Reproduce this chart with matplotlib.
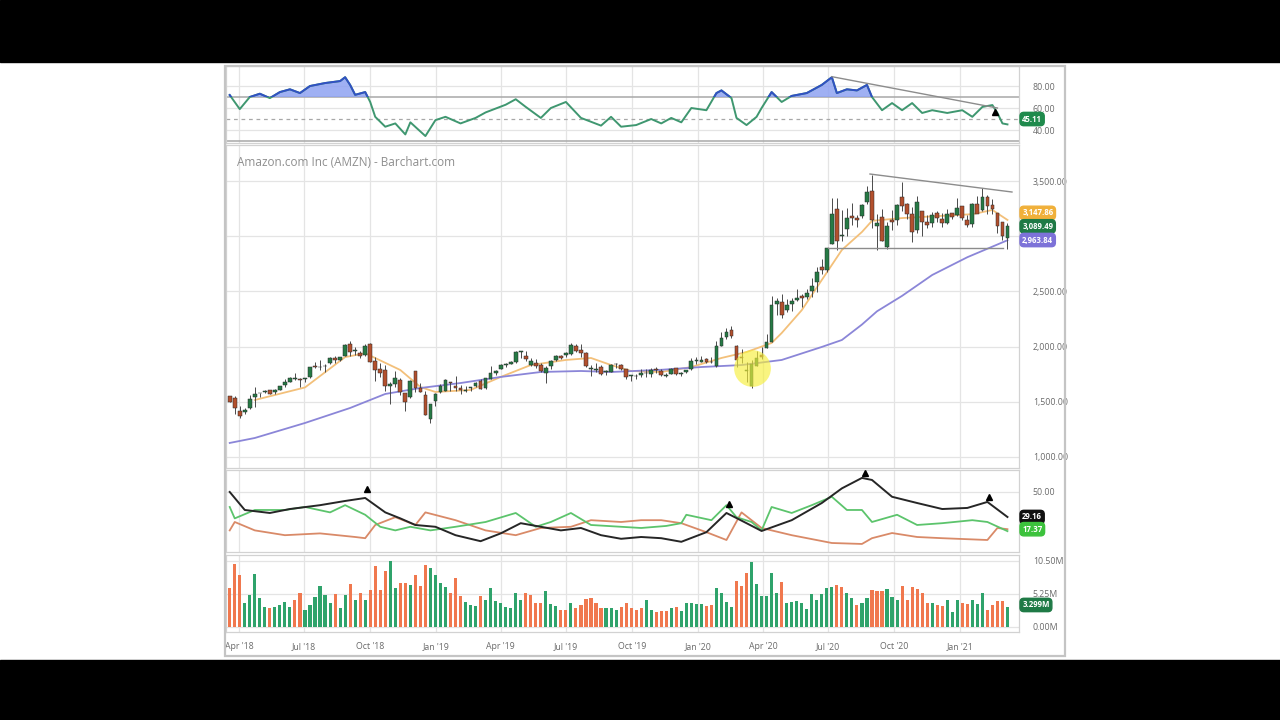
import numpy as np
import matplotlib
matplotlib.use('Agg')
import matplotlib.pyplot as plt
from matplotlib.patches import Rectangle
import pandas as pd

plt.rcParams['font.family'] = ['Open Sans', 'DejaVu Sans']

# ---------------- data ----------------
first_week = '2018-03-19'
quarter_dates = ['2018-04-01', '2018-07-01', '2018-10-01', '2019-01-01', '2019-04-01', '2019-07-01',
                 '2019-10-01', '2020-01-01', '2020-04-01', '2020-07-01', '2020-10-01', '2021-01-01']
quarter_labels = ["Apr '18", "Jul '18", "Oct '18", "Jan '19", "Apr '19", "Jul '19",
                  "Oct '19", "Jan '20", "Apr '20", "Jul '20", "Oct '20", "Jan '21"]

opens = [1554, 1530, 1417, 1406, 1441, 1546, 1582, 1589, 1604, 1585, 1610, 1648, 1682, 1706, 1703, 1708,
         1724, 1821, 1812, 1827, 1847, 1898, 1876, 1916, 2026, 1958, 1943, 1920, 2021, 1874, 1795, 1784,
         1641, 1657, 1700, 1577, 1539, 1775, 1623, 1566, 1346, 1510, 1590, 1600, 1680, 1643, 1626, 1602,
         1623, 1642, 1685, 1621, 1708, 1757, 1800, 1830, 1843, 1862, 1948, 1917, 1836, 1852, 1837, 1760,
         1822, 1876, 1916, 1922, 1934, 2010, 1972, 1946, 1793, 1791, 1818, 1766, 1770, 1840, 1835, 1796,
         1730, 1735, 1740, 1765, 1748, 1801, 1778, 1738, 1753, 1804, 1750, 1767, 1794, 1874, 1860, 1891,
         1865, 1821, 2010, 2083, 2155, 2003, 1906, 1778, 1641, 1827, 1922, 1990, 2045, 2389, 2400, 2336,
         2384, 2425, 2458, 2448, 2500, 2582, 2721, 2690, 2934, 3251, 3005, 3062, 3180, 3170, 3182, 3308,
         3408, 3093, 3172, 2906, 3148, 3145, 3356, 3292, 3198, 3061, 3231, 3131, 3116, 3208, 3158, 3124,
         3207, 3194, 3271, 3148, 3108, 3295, 3242, 3358, 3282, 3208, 3127, 2980]
highs = [1555, 1556, 1460, 1440, 1559, 1638, 1584, 1608, 1605, 1617, 1646, 1703, 1725, 1763, 1717, 1713,
         1814, 1858, 1880, 1841, 1905, 1918, 1910, 2025, 2050, 2000, 1957, 2024, 2033, 1904, 1848, 1831,
         1676, 1782, 1713, 1577, 1695, 1779, 1671, 1602, 1480, 1581, 1663, 1710, 1680, 1737, 1651, 1646,
         1635, 1677, 1709, 1718, 1823, 1792, 1845, 1848, 1870, 1961, 1964, 1959, 1893, 1885, 1849, 1820,
         1883, 1920, 1922, 1952, 2035, 2022, 2020, 1953, 1833, 1848, 1835, 1792, 1841, 1855, 1845, 1797,
         1746, 1750, 1797, 1798, 1802, 1815, 1798, 1759, 1810, 1805, 1768, 1792, 1901, 1905, 1917, 1898,
         1903, 2055, 2128, 2170, 2185, 2017, 1977, 1862, 1880, 1960, 1995, 2110, 2462, 2444, 2476, 2433,
         2442, 2525, 2473, 2525, 2618, 2718, 2796, 2895, 3345, 3344, 3240, 3260, 3300, 3195, 3292, 3451,
         3552, 3204, 3249, 3128, 3240, 3288, 3496, 3301, 3264, 3366, 3232, 3189, 3216, 3228, 3208, 3245,
         3210, 3350, 3272, 3189, 3300, 3363, 3440, 3377, 3336, 3208, 3132, 3123]
lows = [1495, 1386, 1352, 1387, 1439, 1455, 1546, 1583, 1571, 1570, 1604, 1638, 1677, 1699, 1635, 1678,
        1720, 1803, 1790, 1766, 1843, 1852, 1866, 1915, 1915, 1925, 1893, 1912, 1858, 1690, 1724, 1601,
        1476, 1636, 1565, 1420, 1530, 1590, 1585, 1377, 1307, 1460, 1583, 1598, 1595, 1599, 1575, 1593,
        1601, 1632, 1618, 1614, 1702, 1745, 1796, 1817, 1838, 1855, 1898, 1870, 1822, 1810, 1773, 1672,
        1801, 1871, 1886, 1910, 1928, 1948, 1910, 1817, 1738, 1766, 1745, 1740, 1767, 1806, 1789, 1707,
        1685, 1707, 1728, 1725, 1723, 1763, 1735, 1722, 1751, 1741, 1738, 1759, 1785, 1845, 1858, 1855,
        1855, 1815, 2002, 2068, 2082, 1811, 1855, 1675, 1626, 1825, 1890, 1987, 2045, 2286, 2258, 2315,
        2322, 2409, 2362, 2430, 2451, 2494, 2658, 2680, 2930, 2871, 2957, 3001, 3100, 3081, 3167, 3288,
        3073, 2871, 2953, 2887, 3053, 3105, 3228, 3158, 2950, 3030, 3000, 3073, 3086, 3129, 3087, 3110,
        3155, 3181, 3145, 3086, 3088, 3207, 3230, 3200, 3205, 3026, 2966, 2881]
closes = [1495, 1447, 1371, 1430, 1527, 1572, 1580, 1602, 1574, 1610, 1641, 1683, 1715, 1715, 1699, 1710,
          1813, 1813, 1818, 1823, 1896, 1882, 1905, 2012, 1952, 1970, 1915, 2003, 1864, 1788, 1764, 1642,
          1665, 1712, 1593, 1502, 1690, 1629, 1591, 1377, 1478, 1575, 1640, 1696, 1670, 1626, 1607, 1608,
          1631, 1671, 1620, 1713, 1764, 1781, 1837, 1843, 1861, 1950, 1962, 1889, 1869, 1823, 1775, 1804,
          1870, 1911, 1893, 1942, 2011, 1964, 1943, 1823, 1807, 1792, 1749, 1776, 1834, 1839, 1794, 1725,
          1739, 1731, 1757, 1761, 1791, 1785, 1739, 1745, 1800, 1751, 1760, 1786, 1869, 1874, 1883, 1864,
          1861, 2008, 2079, 2134, 2095, 1883, 1901, 1785, 1846, 1900, 1906, 2043, 2375, 2410, 2287, 2379,
          2409, 2436, 2442, 2483, 2545, 2675, 2692, 2890, 3201, 2961, 3008, 3164, 3167, 3149, 3284, 3401,
          3149, 3116, 2954, 3095, 3125, 3287, 3272, 3204, 3036, 3311, 3128, 3099, 3195, 3162, 3116, 3201,
          3172, 3257, 3167, 3104, 3292, 3206, 3352, 3277, 3249, 3092, 3000, 3089.49]

# moving averages (week index, value)
ma_fast_wk = [5, 15, 23, 27, 34, 38, 41, 48, 54, 60, 67, 72, 76, 80, 86, 92, 98, 103, 108, 110, 114,
              118, 122, 126, 128, 134, 140, 148, 152, 155]
ma_fast = [1516, 1630, 1905, 1940, 1788, 1634, 1589, 1607, 1725, 1833, 1879, 1897, 1833, 1779, 1770,
           1815, 1897, 1951, 2033, 2123, 2330, 2604, 2876, 3039, 3140, 3165, 3180, 3200, 3238, 3147.86]
ma_slow_wk = [0, 5, 15, 24, 31, 38, 46, 54, 62, 70, 76, 86, 94, 102, 110, 118, 122, 126, 129, 134, 140,
              147, 155]
ma_slow = [1127, 1172, 1308, 1444, 1571, 1625, 1670, 1725, 1770, 1779, 1770, 1790, 1815, 1833, 1879, 1997,
           2060, 2200, 2320, 2460, 2649, 2810, 2963.84]

# RSI
rsi_wk = [0, 2, 4, 6, 8, 10, 12, 14, 16, 19, 22, 23, 24, 25, 27, 28, 29, 31, 33, 35, 36, 39, 41, 43, 46,
          49, 51, 55, 57, 59, 62, 64, 67, 70, 74, 76, 78, 81, 84, 86, 88, 90, 92, 95, 97, 98, 100, 101,
          103, 105, 106, 108, 110, 112, 115, 118, 120, 121, 123, 125, 127, 128, 130, 132, 134, 136, 138,
          140, 143, 146, 148, 150, 152, 153, 154, 155]
rsi = [71.8, 59, 70, 73, 69, 74.5, 77, 73.6, 80, 82.7, 84.5, 88, 81, 72, 74.5, 65.5, 52, 43, 46, 36, 47,
       34.5, 49, 52, 46, 51, 56, 63, 68, 61, 51, 60, 65.5, 51, 44, 52, 43, 44.5, 50, 46, 51, 47, 60, 58,
       73.6, 76, 69, 51, 44.5, 52, 60, 74.5, 65.5, 71, 73.6, 81, 88, 73.6, 77, 76, 81, 70, 58, 64.5, 58,
       64.5, 55.5, 58, 55.5, 58, 52, 61, 62.7, 55.5, 46, 45.11]

# ADX / DMI
adx_wk = [0, 3, 8, 12, 18, 23, 27, 31, 34, 37, 41, 45, 50, 54, 58, 62, 66, 70, 74, 78, 82, 86, 90, 95,
          99, 103, 106, 112, 118, 122, 126, 128, 132, 137, 142, 147, 151, 155]
adx = [50, 35, 32.5, 35.8, 39, 42.5, 45, 33, 28, 22.5, 21, 14, 9, 15.5, 24, 21, 18, 20, 14, 11, 12.5,
       11.5, 8.5, 16.5, 32.5, 24, 17.5, 26.5, 40.8, 53, 61.7, 60, 46, 40.8, 35.8, 36.7, 41.7, 29.16]
pdi_wk = [0, 1, 5, 11, 15, 20, 23, 27, 30, 33, 36, 40, 45, 51, 57, 61, 64, 68, 72, 78, 82, 87, 90, 91,
          96, 99, 101, 104, 106, 108, 112, 116, 120, 123, 126, 128, 133, 137, 142, 148, 151, 155]
pdi = [37.5, 28, 35, 35, 37.5, 33, 39, 31, 21, 18, 21, 18, 21, 25, 32.5, 21, 25, 32.5, 22.5, 21, 20,
       21.7, 24, 31, 26.5, 39, 29, 25, 18, 37.5, 32.5, 39, 46, 35, 35, 25, 31, 22.5, 24, 26.5, 25, 17.37]
mdi_wk = [0, 1, 5, 11, 18, 25, 27, 29, 33, 37, 39, 45, 51, 57, 62, 68, 72, 78, 82, 86, 90, 95, 99, 102,
          106, 112, 120, 126, 128, 132, 137, 142, 151, 153, 155]
mdi = [18, 25, 18, 14, 15.5, 12.5, 11.5, 22.5, 29, 22.5, 33, 26.5, 18, 14, 20, 21, 26.5, 25, 26.5, 26.5,
       24, 16.5, 10, 33, 20, 14, 7.5, 6.7, 11.5, 15.8, 12.5, 11.5, 10, 20, 19]

# Volume (millions) and bar colour code (G = up week, R = down week)
volume = [6.2, 10.0, 8.3, 3.8, 5.1, 8.4, 4.6, 3.2, 3.0, 3.2,
          3.5, 4.0, 3.2, 4.3, 5.4, 2.7, 3.5, 4.8, 6.5, 5.1,
          3.8, 5.2, 3.0, 5.1, 6.8, 4.3, 5.4, 4.3, 5.9, 9.7,
          5.9, 8.9, 10.5, 6.2, 7.0, 7.0, 6.7, 8.3, 6.5, 9.9,
          9.4, 8.3, 7.0, 6.4, 5.4, 7.8, 4.9, 4.0, 3.5, 3.3,
          4.9, 4.3, 6.2, 4.1, 3.8, 3.2, 3.0, 5.4, 4.3, 5.4,
          5.1, 3.8, 3.8, 5.7, 3.7, 3.3, 2.7, 2.7, 3.8, 3.0,
          3.5, 4.5, 4.6, 3.8, 3.0, 3.0, 3.0, 2.7, 3.2, 3.8,
          3.0, 2.7, 3.0,
          4.3, 2.7, 2.4, 2.5, 2.5, 3.0, 3.2, 2.5, 3.8, 3.8,
          3.7, 3.7, 3.3, 3.5, 6.2, 5.4, 4.0, 3.2, 7.3, 6.5,
          8.6, 10.3, 6.8, 4.9, 4.9, 8.6, 5.4, 7.2, 3.8, 4.0,
          4.1, 3.8, 2.9, 5.2, 4.3, 5.2, 6.2, 6.4, 6.7, 6.4,
          5.4, 4.6, 3.5, 3.8, 4.6, 5.9, 5.7, 5.7, 6.0, 4.8,
          4.3, 6.5, 4.3, 6.4, 6.0, 5.4, 3.8, 3.8, 3.5, 3.3,
          4.3, 2.4, 4.3, 3.8, 3.7, 4.3, 3.7, 5.4, 2.7, 3.5,
          4.1, 4.1, 3.2]
vol_dir = ("RRRGGGGGRG" "GGGRRGGGGG" "GRGGRGRGRR" "RRGGRRGRRR" "GGGGRRRGGG"
           "RGGGGGGGGR" "RRRGGGRRGR" "RRRRRGGGRR" "RR" "R"
           "GGRRRGRGGG" "GGRRGGGGRR" "RGGGGGGRGG" "GGGGGGGGRR" "GGRGGRRRGG"
           "GRRRRRRGRR" "GGGRRGGGRR" "RRG")

# drawings (week index, value)
resist_wk, resist_px = [127.6, 155.9], [3564, 3401]
support_wk, support_px = [119.3, 154.1], [2893, 2893]
rsi_trend_wk, rsi_trend = [120, 153], [88.5, 60]
rsi_alert_wk, rsi_alert = [152.6], [56]
adx_alert_wk, adx_alert = [27.4, 99.5, 126.6, 151.4], [52.5, 40, 66, 46]
highlight_wk, highlight_px = [104.1], [1806]

# ---------------- figure ----------------
W, H = 1280, 720
fig = plt.figure(figsize=(12.8, 7.2), dpi=100, facecolor='white')

def fx(x):
    return x / W

def fy(y):
    return 1 - y / H

fig.add_artist(Rectangle((0, fy(62)), 1, 62 / H, transform=fig.transFigure, color='black', zorder=0))
fig.add_artist(Rectangle((0, 0), 1, 60 / H, transform=fig.transFigure, color='black', zorder=0))
fig.add_artist(Rectangle((fx(225), fy(656)), fx(1065 - 225), (656 - 66) / H, transform=fig.transFigure,
                         fill=False, edgecolor='#c4c4c4', lw=1.6, zorder=1))

def make_ax(top, bottom):
    return fig.add_axes([fx(226), fy(bottom), fx(1019 - 226), (bottom - top) / H])

ax_rsi = make_ax(66, 143)
ax = make_ax(145, 468)
ax_adx = make_ax(470, 552)
ax_vol = make_ax(555, 632)

t0 = pd.Timestamp(first_week)
qpos = [(pd.Timestamp(d) - t0).days / 7 for d in quarter_dates]
wk = np.arange(len(closes))
xlim = (-0.74, 157.3)
grid_c = '#e4e4e4'
lab_c = '#6a6a6a'

for a in (ax_rsi, ax, ax_adx, ax_vol):
    a.set_xlim(*xlim)
    a.set_xticks(qpos)
    a.set_xticklabels([])
    a.tick_params(axis='x', length=0)
    a.yaxis.tick_right()
    a.tick_params(axis='y', length=0, pad=10, labelsize=6.3, labelcolor=lab_c)
    for s in a.spines.values():
        s.set_color('#d2d2d2')
        s.set_linewidth(0.9)
    for q in qpos:
        a.axvline(q, color=grid_c, lw=0.9, zorder=0)
    a.set_facecolor('white')

# ---- main candlestick panel ----
o = np.array(opens, float); h = np.array(highs, float)
l = np.array(lows, float); c = np.array(closes, float)
up = c >= o
body_col = np.where(up, '#267a45', '#b3502d')
ax.set_ylim(900, 3827)
price_ticks = [1000, 1500, 2000, 2500, 3000, 3500]
ax.set_yticks(price_ticks)
# the 3,000.00 label sits behind the price flags in the reference
ax.set_yticklabels(['' if v == 3000 else f'{v:,.2f}' for v in price_ticks])
for v in price_ticks:
    ax.axhline(v, color=grid_c, lw=0.9, zorder=0)
ax.vlines(wk, l, h, color='#4a4a4a', lw=0.7, zorder=3)
ax.bar(wk, np.maximum(np.abs(c - o), 4), bottom=np.minimum(o, c), width=0.74,
       color=body_col, edgecolor='#2a2a2a', linewidth=0.35, zorder=4)
ax.plot(ma_fast_wk, ma_fast, color='#f3c07a', lw=1.3, zorder=2)
ax.plot(ma_slow_wk, ma_slow, color='#8b86d8', lw=1.3, zorder=2)
ax.plot(resist_wk, resist_px, color='#8c8c8c', lw=1.0, zorder=5)
ax.plot(support_wk, support_px, color='#8c8c8c', lw=1.0, zorder=5)
ax.scatter(highlight_wk, highlight_px, s=700, color='#f6ef3c', alpha=0.65, lw=0, zorder=6)
ax.text(0.014, 0.947, 'Amazon.com Inc (AMZN) - Barchart.com', transform=ax.transAxes,
        fontsize=8.5, color='#8e8e8e', va='center', ha='left')

def tag(a, y, text, fc, tc='white'):
    a.text(1.004, y, text, transform=a.get_yaxis_transform(), ha='left', va='center',
           fontsize=5.6, color=tc, fontweight='bold', zorder=10, clip_on=False,
           bbox=dict(boxstyle='round,pad=0.28,rounding_size=0.5', fc=fc, ec=fc))

tag(ax, 3212, '3,147.86', '#f0b03a')
tag(ax, 3090, f'{closes[-1]:,.2f}', '#1f7a46')
tag(ax, 2966, '2,963.84', '#7d72d8')

# ---- RSI panel ----
ax_rsi.set_ylim(28.2, 98.2)
ax_rsi.set_yticks([40, 60, 80])
ax_rsi.set_yticklabels(['40.00', '60.00', '80.00'])
for v in (40, 60, 80):
    ax_rsi.axhline(v, color=grid_c, lw=0.9, zorder=0)
ax_rsi.axhline(70, color='#a8a8a8', lw=1.1, zorder=1)
ax_rsi.axhline(30, color='#a8a8a8', lw=1.1, zorder=1)
ax_rsi.axhline(50, color='#a8a8a8', lw=0.9, ls=(0, (3, 3)), zorder=1)
rsi_a = np.array(rsi, float)
ax_rsi.fill_between(rsi_wk, 70, rsi_a, where=rsi_a > 70, interpolate=True,
                    color='#8ea2f2', alpha=0.85, lw=0, zorder=2)
ax_rsi.plot(rsi_wk, rsi, color='#3f9770', lw=1.4, zorder=3)
blue_line, = ax_rsi.plot(rsi_wk, rsi, color='#3150c4', lw=1.4, zorder=4)
blue_line.set_clip_path(Rectangle((xlim[0], 70), xlim[1] - xlim[0], 40, transform=ax_rsi.transData))
ax_rsi.plot(rsi_trend_wk, rsi_trend, color='#8c8c8c', lw=1.0, zorder=5)
ax_rsi.plot(rsi_alert_wk, rsi_alert, marker='^', color='black', ms=5, ls='none', zorder=6)
tag(ax_rsi, 50, '45.11', '#1f8a4c')

# ---- ADX panel ----
ax_adx.set_ylim(0, 68.3)
ax_adx.set_yticks([50])
ax_adx.set_yticklabels(['50.00'])
ax_adx.axhline(50, color=grid_c, lw=0.9, zorder=0)
ax_adx.plot(mdi_wk, mdi, color='#d98a68', lw=1.3, zorder=2)
ax_adx.plot(pdi_wk, pdi, color='#5cc46c', lw=1.3, zorder=3)
ax_adx.plot(adx_wk, adx, color='#262626', lw=1.4, zorder=4)
ax_adx.plot(adx_alert_wk, adx_alert, marker='^', color='black', ms=5, ls='none', zorder=6)
tag(ax_adx, 29.16, '29.16', '#111111')
tag(ax_adx, 19.0, '17.37', '#3cc23c')

# ---- Volume panel ----
vcol = ['#2fa36b' if d == 'G' else '#f0784e' for d in vol_dir]
ax_vol.set_ylim(-0.8, 11.45)
ax_vol.set_yticks([0, 5.25, 10.5])
ax_vol.set_yticklabels(['0.00M', '5.25M', '10.50M'])
for v in (0, 5.25, 10.5):
    ax_vol.axhline(v, color=grid_c, lw=0.9, zorder=0)
ax_vol.bar(np.arange(len(volume)), volume, width=0.62, color=vcol, zorder=2)
tag(ax_vol, 3.5, '3.299M', '#1f7a46')

ax_vol.set_xticklabels(quarter_labels)
ax_vol.tick_params(axis='x', labelsize=6.3, labelcolor=lab_c, pad=7)

fig.savefig('out.png', dpi=100, facecolor='white')
